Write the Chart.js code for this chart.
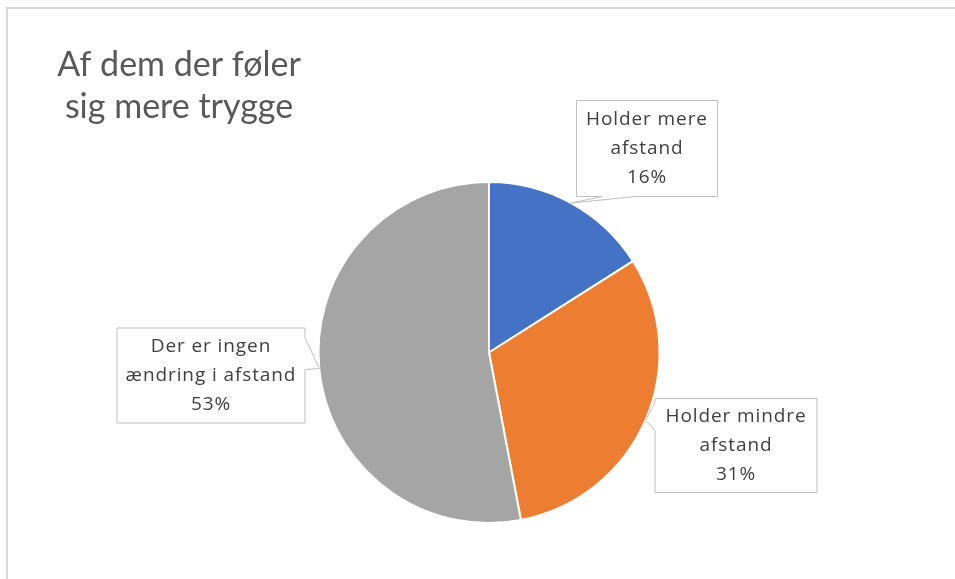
<!DOCTYPE html>
<html>
<head>
<meta charset="utf-8">
<script src="https://cdn.jsdelivr.net/npm/chart.js@4/dist/chart.umd.min.js"></script>
<style>
  html, body { margin: 0; padding: 0; background: #fff; }
  #wrap { position: relative; width: 955px; height: 579px; }
</style>
</head>
<body>
<div id="wrap"><canvas id="pie" width="955" height="579"></canvas></div>
<script>
// data
let titleLines = ["Af dem der føler", "sig mere trygge"]
let categories = ["Holder mere afstand", "Holder mindre afstand", "Der er ingen ændring i afstand"]
let labelLines = [["Holder mere", "afstand"], ["Holder mindre", "afstand"], ["Der er ingen", "ændring i afstand"]]
let shares = [16, 31, 53]
let colors = ["#4472c4", "#ed7d31", "#a5a5a5"]

// callout placement (relative to pie centre) - layout only
let callouts = [
    { dx: 158, dy: -204, w: 141, h: 96, side: "bottom", at: 0.30, hw: 17 },
    { dx: 247, dy: 93, w: 162, h: 94, side: "left", at: 0.19, hw: 14 },
    { dx: -278, dy: 23, w: 188, h: 95, side: "right", at: 0.27, hw: 16 }
]

let textFont = '19px "Open Sans"'
let textColor = "#404040"

const frame = { //Рамка та заголовок
    id: "frame",
    beforeDraw(chart) {
        const c = chart.ctx
        c.save()
        c.fillStyle = "#fff"
        c.fillRect(0, 0, chart.width, chart.height)
        c.strokeStyle = "#d9d9d9"
        c.lineWidth = 2
        c.beginPath()
        c.moveTo(7, chart.height)
        c.lineTo(7, 8)
        c.lineTo(chart.width, 8)
        c.stroke()
        c.fillStyle = "#595959"
        c.font = '400 34px Lato'
        c.textAlign = "center"
        c.textBaseline = "alphabetic"
        c.fillText(titleLines[0], 179, 76)
        c.fillText(titleLines[1], 179, 118)
        c.restore()
    }
}

const calloutPlugin = { //Виноски з підписами
    id: "callouts",
    afterDatasetsDraw(chart) {
        const c = chart.ctx
        const arcs = chart.getDatasetMeta(0).data
        c.save()
        arcs.forEach((arc, i) => {
            const o = callouts[i]
            const mid = (arc.startAngle + arc.endAngle) / 2
            const tx = arc.x + Math.cos(mid) * arc.outerRadius
            const ty = arc.y + Math.sin(mid) * arc.outerRadius
            const cx = arc.x + o.dx, cy = arc.y + o.dy
            const l = cx - o.w / 2, r = cx + o.w / 2, t = cy - o.h / 2, b = cy + o.h / 2
            c.beginPath()
            c.moveTo(l, t)
            c.lineTo(r, t)
            if (o.side === "right") {
                const m = t + o.h * o.at
                c.lineTo(r, m - o.hw); c.lineTo(tx, ty); c.lineTo(r, m + o.hw)
            }
            c.lineTo(r, b)
            if (o.side === "bottom") {
                const m = l + o.w * o.at
                c.lineTo(m + o.hw, b); c.lineTo(tx, ty); c.lineTo(m - o.hw, b)
            }
            c.lineTo(l, b)
            if (o.side === "left") {
                const m = t + o.h * o.at
                c.lineTo(l, m + o.hw); c.lineTo(tx, ty); c.lineTo(l, m - o.hw)
            }
            c.closePath()
            c.fillStyle = "#fff"
            c.fill()
            c.strokeStyle = "#bfbfbf"
            c.lineWidth = 1
            c.stroke()

            c.fillStyle = textColor
            c.font = textFont
            c.letterSpacing = "0.9px"
            c.textAlign = "center"
            c.textBaseline = "middle"
            const lines = labelLines[i].concat([shares[i] + "%"])
            lines.forEach((s, k) => c.fillText(s, cx, cy + (k - 1) * 29))
        })
        c.restore()
    }
}

new Chart(document.getElementById("pie"), {
    type: "pie",
    data: {
        labels: categories,
        datasets: [{
            data: shares,
            backgroundColor: colors,
            borderColor: "#fff",
            borderWidth: 2
        }]
    },
    options: {
        responsive: false,
        animation: false,
        layout: { padding: { top: 181, bottom: 55, left: 298, right: 275 } },
        plugins: {
            legend: { display: false },
            title: { display: false },
            tooltip: { enabled: false }
        }
    },
    plugins: [frame, calloutPlugin]
})
</script>
</body>
</html>
